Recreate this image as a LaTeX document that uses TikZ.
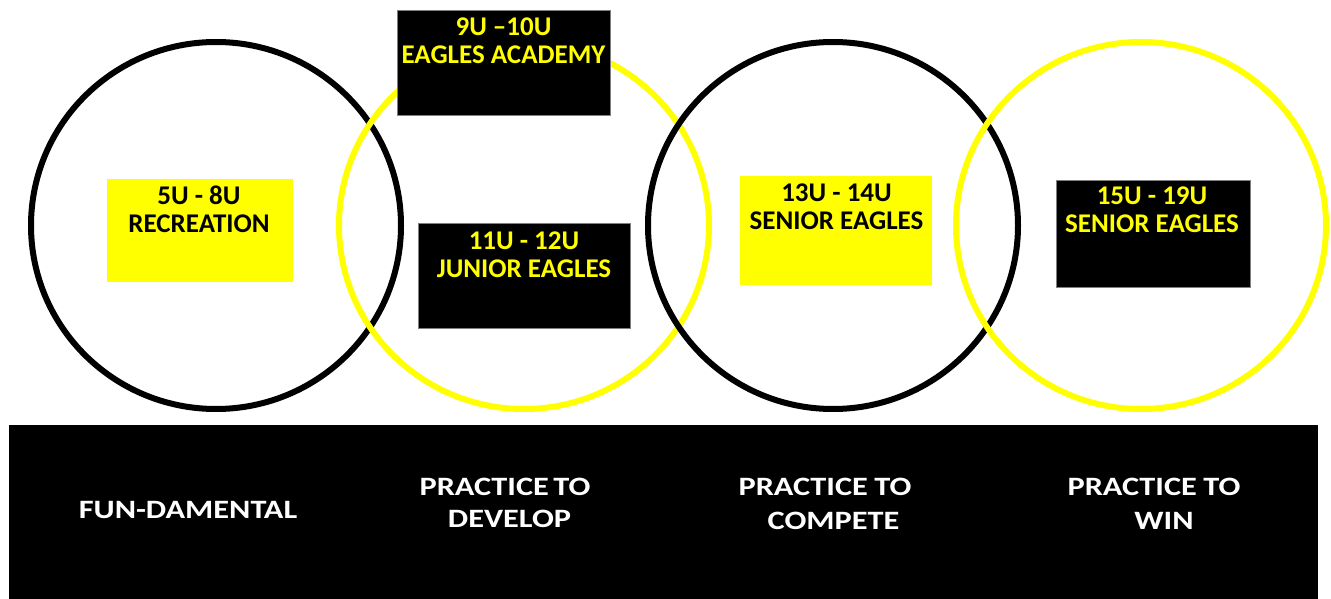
\documentclass[tikz,border=0pt]{standalone}
\usepackage{fontspec}
\setmainfont{Carlito}
\newfontfamily\bandfont{Carlito}[FakeStretch=1.22]
\definecolor{ylw}{HTML}{FFFF00}
\definecolor{rim}{HTML}{7F7F7F}
\begin{document}
\begin{tikzpicture}[x=1pt,y=-1pt,
  ring/.style={line width=6pt},
  box/.style={inner sep=0pt, outer sep=0pt},
  ybox/.style={box, fill=ylw},
  kbox/.style={box, fill=black, draw=rim, line width=1pt},
  boxtxt/.style={inner sep=0pt, anchor=north, align=center,
    font=\bfseries\fontsize{27}{28.5}\selectfont},
  ytxt/.style={boxtxt, text=ylw},
  ktxt/.style={boxtxt, text=black},
  bandtxt/.style={inner sep=0pt, anchor=north, align=center, text=white,
    font=\bandfont\bfseries\fontsize{26.5}{32}\selectfont}]
\useasboundingbox (0,0) rectangle (1331,599);
\fill[white] (0,0) rectangle (1331,599);
% rings
\draw[ring, black] (216,225.5) ellipse [x radius=185, y radius=183.5];
\draw[ring, ylw]   (524,225.5) ellipse [x radius=185, y radius=183.5];
\draw[ring, black] (833,225.5) ellipse [x radius=185, y radius=183.5];
\draw[ring, ylw]   (1141,225.5) ellipse [x radius=185, y radius=183.5];
% boxes
\node[ybox, minimum width=186pt, minimum height=103pt] (b1) at (200,230.5) {};
\node[kbox, minimum width=213pt, minimum height=105pt] (b2) at (503.5,63.5) {};
\node[kbox, minimum width=212pt, minimum height=105pt] (b3) at (524,275.5) {};
\node[ybox, minimum width=192pt, minimum height=109pt] (b4) at (836,230.5) {};
\node[kbox, minimum width=194pt, minimum height=106pt] (b5) at (1153,234) {};
% box texts
\node[ktxt] (t1) at (199,185.5) {5U - 8U\\RECREATION};
\node[ytxt] (t2) at (503.5,17.5) {9U –10U\\EAGLES ACADEMY};
\node[ytxt] (t3) at (524,231.5) {11U - 12U\\JUNIOR EAGLES};
\node[ktxt] (t4) at (836.5,183.5) {13U - 14U\\SENIOR EAGLES};
\node[ytxt] (t5) at (1152,186.5) {15U - 19U\\SENIOR EAGLES};
% band
\node[box, fill=black, minimum width=1309pt, minimum height=174pt] (band) at (663.5,512) {};
\node[bandtxt] (s1) at (188,501) {FUN-DAMENTAL};
\node[bandtxt] (s2) at (505,478) {PRACTICE\hspace{4.5pt}TO\\\hspace*{9pt}DEVELOP};
\node[bandtxt] (s3) at (825,478) {PRACTICE\hspace{6.5pt}TO\\[2pt]\hspace*{17pt}COMPETE};
\node[bandtxt] (s4) at (1154,478) {PRACTICE\hspace{6.5pt}TO\\[2pt]\hspace*{20pt}WIN};
\end{tikzpicture}
\end{document}
